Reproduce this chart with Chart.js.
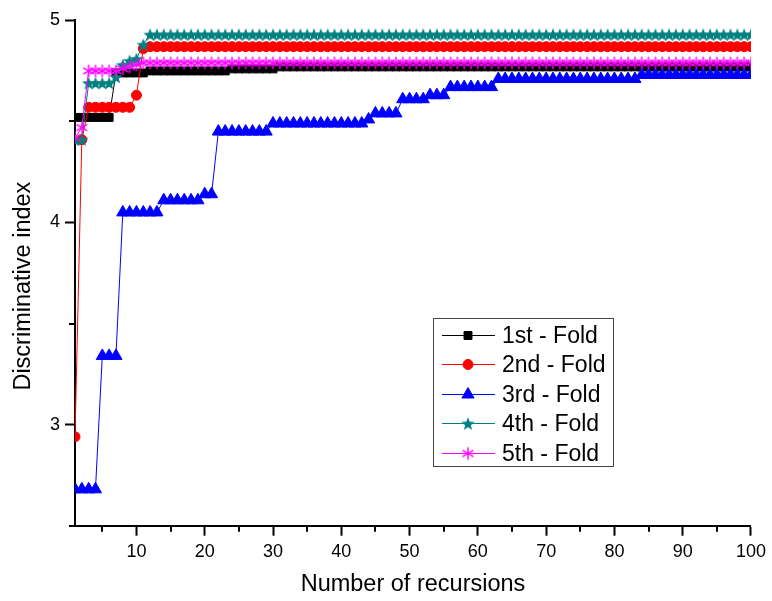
<!DOCTYPE html>
<html><head><meta charset="utf-8">
<script src="https://cdn.jsdelivr.net/npm/chart.js@4/dist/chart.umd.min.js"></script>
<style>html,body{margin:0;padding:0;background:#fff;}canvas{display:block;}</style>
</head><body>
<canvas id="c" width="772" height="601" style="width:772px;height:601px"></canvas>
<script>
const recursions = [
  1,2,3,4,5,6,7,8,9,10,
  11,12,13,14,15,16,17,18,19,20,
  21,22,23,24,25,26,27,28,29,30,
  31,32,33,34,35,36,37,38,39,40,
  41,42,43,44,45,46,47,48,49,50,
  51,52,53,54,55,56,57,58,59,60,
  61,62,63,64,65,66,67,68,69,70,
  71,72,73,74,75,76,77,78,79,80,
  81,82,83,84,85,86,87,88,89,90,
  91,92,93,94,95,96,97,98,99,100
];
const fold1 = [
  4.52,4.52,4.52,4.52,4.52,4.52,4.74,4.74,4.74,4.74,
  4.74,4.75,4.75,4.75,4.75,4.75,4.75,4.75,4.75,4.75,
  4.75,4.75,4.75,4.76,4.76,4.76,4.76,4.76,4.76,4.76,
  4.77,4.77,4.77,4.77,4.77,4.77,4.77,4.77,4.77,4.77,
  4.77,4.77,4.77,4.77,4.77,4.77,4.77,4.77,4.77,4.77,
  4.77,4.77,4.77,4.77,4.77,4.77,4.77,4.77,4.77,4.77,
  4.77,4.77,4.77,4.77,4.77,4.77,4.77,4.77,4.77,4.77,
  4.77,4.77,4.77,4.77,4.77,4.77,4.77,4.77,4.77,4.77,
  4.77,4.77,4.77,4.77,4.77,4.77,4.77,4.77,4.77,4.77,
  4.77,4.77,4.77,4.77,4.77,4.77,4.77,4.77,4.77,4.77
];
const fold2 = [
  2.94,4.41,4.57,4.57,4.57,4.57,4.57,4.57,4.57,4.63,
  4.86,4.87,4.87,4.87,4.87,4.87,4.87,4.87,4.87,4.87,
  4.87,4.87,4.87,4.87,4.87,4.87,4.87,4.87,4.87,4.87,
  4.87,4.87,4.87,4.87,4.87,4.87,4.87,4.87,4.87,4.87,
  4.87,4.87,4.87,4.87,4.87,4.87,4.87,4.87,4.87,4.87,
  4.87,4.87,4.87,4.87,4.87,4.87,4.87,4.87,4.87,4.87,
  4.87,4.87,4.87,4.87,4.87,4.87,4.87,4.87,4.87,4.87,
  4.87,4.87,4.87,4.87,4.87,4.87,4.87,4.87,4.87,4.87,
  4.87,4.87,4.87,4.87,4.87,4.87,4.87,4.87,4.87,4.87,
  4.87,4.87,4.87,4.87,4.87,4.87,4.87,4.87,4.87,4.87
];
const fold3 = [
  2.68,2.68,2.68,2.68,3.34,3.34,3.34,4.05,4.05,4.05,
  4.05,4.05,4.05,4.11,4.11,4.11,4.11,4.11,4.11,4.14,
  4.14,4.45,4.45,4.45,4.45,4.45,4.45,4.45,4.45,4.49,
  4.49,4.49,4.49,4.49,4.49,4.49,4.49,4.49,4.49,4.49,
  4.49,4.49,4.49,4.51,4.54,4.54,4.54,4.54,4.61,4.61,
  4.61,4.61,4.63,4.63,4.63,4.67,4.67,4.67,4.67,4.67,
  4.67,4.67,4.71,4.71,4.71,4.71,4.71,4.71,4.71,4.71,
  4.71,4.71,4.71,4.71,4.71,4.71,4.71,4.71,4.71,4.71,
  4.71,4.71,4.71,4.73,4.73,4.73,4.73,4.73,4.73,4.73,
  4.73,4.73,4.73,4.73,4.73,4.73,4.73,4.73,4.73,4.73
];
const fold4 = [
  4.41,4.41,4.69,4.69,4.69,4.69,4.72,4.78,4.80,4.81,
  4.88,4.93,4.93,4.93,4.93,4.93,4.93,4.93,4.93,4.93,
  4.93,4.93,4.93,4.93,4.93,4.93,4.93,4.93,4.93,4.93,
  4.93,4.93,4.93,4.93,4.93,4.93,4.93,4.93,4.93,4.93,
  4.93,4.93,4.93,4.93,4.93,4.93,4.93,4.93,4.93,4.93,
  4.93,4.93,4.93,4.93,4.93,4.93,4.93,4.93,4.93,4.93,
  4.93,4.93,4.93,4.93,4.93,4.93,4.93,4.93,4.93,4.93,
  4.93,4.93,4.93,4.93,4.93,4.93,4.93,4.93,4.93,4.93,
  4.93,4.93,4.93,4.93,4.93,4.93,4.93,4.93,4.93,4.93,
  4.93,4.93,4.93,4.93,4.93,4.93,4.93,4.93,4.93,4.93
];
const fold5 = [
  4.42,4.47,4.75,4.75,4.75,4.75,4.75,4.76,4.77,4.78,
  4.79,4.79,4.79,4.79,4.79,4.79,4.79,4.79,4.79,4.79,
  4.79,4.79,4.79,4.79,4.79,4.79,4.79,4.79,4.79,4.79,
  4.79,4.79,4.79,4.79,4.79,4.79,4.79,4.79,4.79,4.79,
  4.79,4.79,4.79,4.79,4.79,4.79,4.79,4.79,4.79,4.79,
  4.79,4.79,4.79,4.79,4.79,4.79,4.79,4.79,4.79,4.79,
  4.79,4.79,4.79,4.79,4.79,4.79,4.79,4.79,4.79,4.79,
  4.79,4.79,4.79,4.79,4.79,4.79,4.79,4.79,4.79,4.79,
  4.79,4.79,4.79,4.79,4.79,4.79,4.79,4.79,4.79,4.79,
  4.79,4.79,4.79,4.79,4.79,4.79,4.79,4.79,4.79,4.79
];
const seriesNames = ['1st - Fold','2nd - Fold','3rd - Fold','4th - Fold','5th - Fold'];
const xMajorTicks = [10,20,30,40,50,60,70,80,90,100];
const xMinorTicks = [5,15,25,35,45,55,65,75,85,95];
const yMajorTicks = [3,4,5];
const yMinorTicks = [2.5,3.5,4.5];

const FONT = '"Liberation Sans", Arial, sans-serif';

function makeStar(color) {
  const s = 16, c = document.createElement('canvas');
  c.width = s; c.height = s;
  const g = c.getContext('2d');
  g.fillStyle = color; g.beginPath();
  for (let k = 0; k < 10; k++) {
    const ang = -Math.PI / 2 + k * Math.PI / 5;
    const rad = (k % 2) ? 3.0 : 7.0;
    const px = s / 2 + rad * Math.cos(ang), py = s / 2 + 0.7 + rad * Math.sin(ang);
    if (k) g.lineTo(px, py); else g.moveTo(px, py);
  }
  g.closePath(); g.fill();
  return c;
}
function makeAsterisk(color) {
  const s = 16, c = document.createElement('canvas');
  c.width = s; c.height = s;
  const g = c.getContext('2d');
  g.strokeStyle = color; g.lineWidth = 1.4; g.beginPath();
  for (let k = 0; k < 3; k++) {
    const ang = Math.PI / 2 + k * Math.PI / 3;
    const dx = 6.3 * Math.cos(ang), dy = 6.3 * Math.sin(ang);
    g.moveTo(s / 2 - dx, s / 2 - dy); g.lineTo(s / 2 + dx, s / 2 + dy);
  }
  g.stroke();
  return c;
}

const styles = [
  {color: '#000000', pointStyle: 'rect', radius: 5.6, order: 5},
  {color: '#ff0000', pointStyle: 'circle', radius: 5, order: 4},
  {color: '#0000ff', pointStyle: 'triangle', radius: 7, order: 3},
  {color: '#008080', pointStyle: makeStar('#008080'), radius: 7, order: 2},
  {color: '#ff00ff', pointStyle: makeAsterisk('#ff00ff'), radius: 7, order: 1}
];
const allSeries = [fold1, fold2, fold3, fold4, fold5];

const datasets = allSeries.map((vals, i) => ({
  label: seriesNames[i],
  data: vals.map((v, j) => ({x: recursions[j], y: v})),
  borderColor: styles[i].color,
  backgroundColor: styles[i].color,
  pointBackgroundColor: styles[i].color,
  pointBorderColor: styles[i].color,
  pointBorderWidth: 1,
  borderWidth: 1,
  pointStyle: styles[i].pointStyle,
  pointRadius: styles[i].radius,
  pointHoverRadius: styles[i].radius,
  tension: 0,
  order: styles[i].order
}));

const minorTicksPlugin = {
  id: 'minorTicks',
  afterDraw(chart) {
    const ctx = chart.ctx, xs = chart.scales.x, ys = chart.scales.y, ca = chart.chartArea;
    ctx.save();
    ctx.strokeStyle = '#000'; ctx.lineWidth = 2;
    ctx.beginPath();
    xMinorTicks.forEach(v => {
      const px = Math.round(xs.getPixelForValue(v));
      ctx.moveTo(px, ca.bottom); ctx.lineTo(px, ca.bottom + 6);
    });
    yMinorTicks.forEach(v => {
      const py = Math.round(ys.getPixelForValue(v));
      ctx.moveTo(ca.left - 6, py); ctx.lineTo(ca.left, py);
    });
    ctx.stroke();
    ctx.restore();
  }
};

const legendPlugin = {
  id: 'boxLegend',
  afterDraw(chart) {
    const ctx = chart.ctx, ca = chart.chartArea;
    const left = ca.left + 358, top = ca.top + 298, w = 180, h = 148;
    ctx.save();
    ctx.fillStyle = '#fff';
    ctx.fillRect(left, top, w, h);
    ctx.strokeStyle = '#444'; ctx.lineWidth = 1;
    ctx.strokeRect(Math.round(left) + 0.5, Math.round(top) + 0.5, w, h);
    chart.data.datasets.forEach((ds, i) => {
      const y = Math.round(top + 16.7 + i * 29.4) + 0.5;
      ctx.strokeStyle = ds.borderColor; ctx.lineWidth = 1;
      ctx.beginPath(); ctx.moveTo(left + 9, y); ctx.lineTo(left + 62, y); ctx.stroke();
      ctx.fillStyle = ds.pointBackgroundColor; ctx.strokeStyle = ds.pointBorderColor;
      ctx.lineWidth = ds.pointBorderWidth;
      Chart.helpers.drawPoint(ctx, {pointStyle: ds.pointStyle, radius: ds.pointRadius, rotation: 0, borderWidth: ds.pointBorderWidth}, left + 35, y);
      ctx.fillStyle = '#000'; ctx.font = '23px ' + FONT;
      ctx.textBaseline = 'middle'; ctx.textAlign = 'left';
      ctx.fillText(ds.label, left + 69, y + 1);
    });
    ctx.restore();
  }
};

new Chart(document.getElementById('c'), {
  type: 'line',
  data: {datasets},
  plugins: [minorTicksPlugin, legendPlugin],
  options: {
    responsive: false,
    animation: false,
    devicePixelRatio: 1,
    layout: {padding: {left: 0, right: 17, top: 20.4, bottom: 0}},
    plugins: {legend: {display: false}, tooltip: {enabled: false}},
    scales: {
      x: {
        type: 'linear', min: 1, max: 100,
        afterBuildTicks: s => { s.ticks = xMajorTicks.map(v => ({value: v})); },
        afterFit: s => { s.height = 75.3; },
        grid: {drawOnChartArea: false, tickLength: 10, tickWidth: 2, tickColor: '#000'},
        border: {display: true, color: '#000', width: 2},
        ticks: {color: '#000', font: {family: FONT, size: 18}, padding: 6, maxRotation: 0, autoSkip: false},
        title: {display: true, text: 'Number of recursions', color: '#000', font: {family: FONT, size: 23.5}, padding: {top: 0, bottom: 2}}
      },
      y: {
        min: 2.5, max: 5,
        afterBuildTicks: s => { s.ticks = yMajorTicks.map(v => ({value: v})); },
        afterFit: s => { s.width = 75; },
        grid: {drawOnChartArea: false, tickLength: 10, tickWidth: 2, tickColor: '#000'},
        border: {display: true, color: '#000', width: 2},
        ticks: {color: '#000', font: {family: FONT, size: 18}, padding: 5, autoSkip: false},
        title: {display: true, text: 'Discriminative index    ', color: '#000', font: {family: FONT, size: 23.5}, padding: {top: 9, bottom: 0}}
      }
    }
  }
});
</script>
</body></html>
